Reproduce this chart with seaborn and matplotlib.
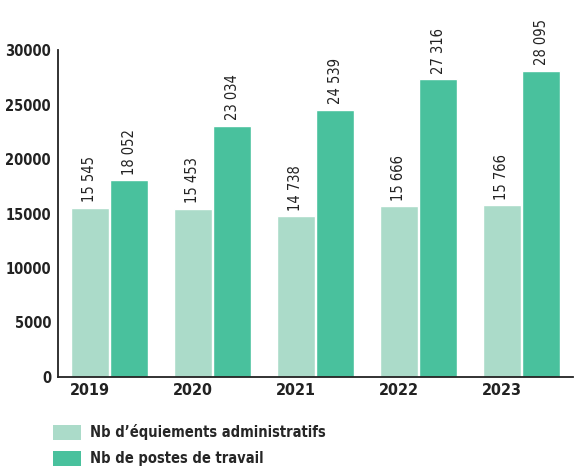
import matplotlib
matplotlib.use("Agg")
import matplotlib.pyplot as plt
from matplotlib import font_manager as fm
import seaborn as sns
import pandas as pd
from matplotlib.patches import Patch

years = ["2019", "2020", "2021", "2022", "2023"]
equipements = [15545, 15453, 14738, 15666, 15766]
postes = [18052, 23034, 24539, 27316, 28095]
series_names = ["Nb d’équiements administratifs", "Nb de postes de travail"]
colors = ["#abdbc9", "#49c19d"]
yticks = [0, 5000, 10000, 15000, 20000, 25000, 30000]

cands = [f for f in fm.fontManager.ttflist if ("Narrow" in f.name or "Condensed" in f.name or
         (str(f.stretch) in ("condensed", "semi-condensed", "75", "87")))]

sns.set_theme(style="white")
if cands:
    fam = cands[0].name
    plt.rcParams['font.family'] = [fam, 'DejaVu Sans']
    plt.rcParams['font.stretch'] = str(cands[0].stretch)
else:
    plt.rcParams['font.family'] = ['DejaVu Sans']
    plt.rcParams['font.stretch'] = 'condensed'

df = pd.DataFrame({
    "year": years * 2,
    "value": equipements + postes,
    "serie": [series_names[0]] * 5 + [series_names[1]] * 5,
})

fig = plt.figure(figsize=(5.74, 4.68), dpi=100)
ax = fig.add_axes([58 / 574, 91 / 468, (573 - 58) / 574, (377 - 50) / 468])
sns.barplot(data=df, x="year", y="value", hue="serie", palette=colors,
            width=0.77, gap=0.04, ax=ax, legend=False, saturation=1)

ax.set_xlim(-0.5, 4.5)
ax.set_ylim(0, 30000)
ax.set_yticks(yticks)
ax.set_yticklabels([str(t) for t in yticks], fontweight="bold", fontsize=10.5, color="#222222")
ax.tick_params(axis="y", direction="in", length=9, width=1.2, color="#222222", pad=5)
ax.set_xticks([i - 0.1925 for i in range(len(years))])
ax.set_xticklabels(years, fontweight="bold", fontsize=11.5, color="#222222")
ax.tick_params(axis="x", length=0, pad=4)
ax.set_xlabel("")
ax.set_ylabel("")
for s in ["top", "right"]:
    ax.spines[s].set_visible(False)
for s in ["left", "bottom"]:
    ax.spines[s].set_color("#222222")
    ax.spines[s].set_linewidth(1.3)

def fmt(v):
    return f"{v:,}".replace(",", " ")

for cont in ax.containers:
    ax.bar_label(cont, labels=[fmt(int(b.get_height())) for b in cont],
                 rotation=90, padding=4, fontsize=10.5, color="#222222", clip_on=False)

handles = [Patch(facecolor=c, edgecolor="none") for c in colors]
fig.legend(handles, series_names, loc="upper left", bbox_to_anchor=(53 / 574, 1 - 424 / 468),
           frameon=False, borderaxespad=0, borderpad=0,
           handlelength=1.92, handleheight=1.2, handletextpad=0.6,
           labelspacing=0.75, prop={"weight": "bold", "size": 10.5})

fig.savefig("out.png", dpi=100)
